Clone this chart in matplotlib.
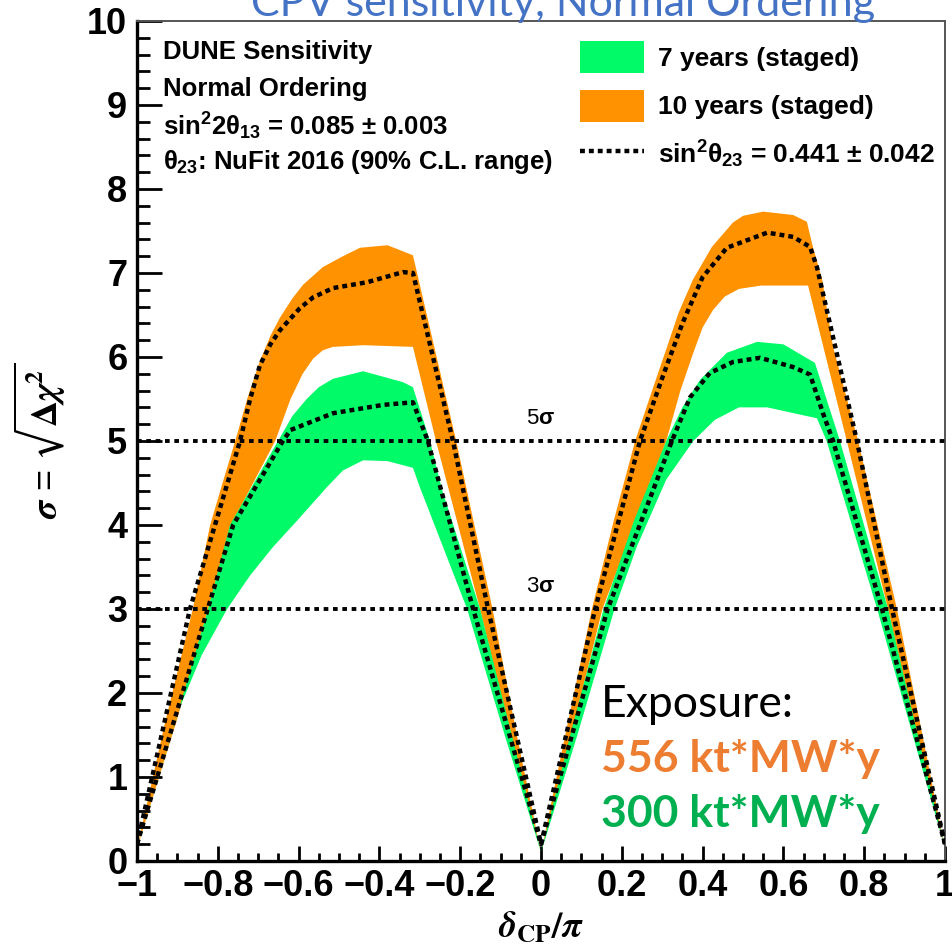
import numpy as np
import matplotlib
matplotlib.use("Agg")
import matplotlib.pyplot as plt
from matplotlib.patches import Patch
from matplotlib.lines import Line2D
from matplotlib.ticker import MultipleLocator

# ---------------- data ----------------
# 10 years (staged) band: upper boundary
o10_up_d = [-1.0, -0.933, -0.862, -0.819, -0.787, -0.757, -0.726, -0.696, -0.67, -0.646, -0.615,
            -0.589, -0.54, -0.49, -0.448, -0.38, -0.317,
            -0.21, -0.12, -0.06, 0.0, 0.06, 0.126, 0.18, 0.233, 0.275, 0.312, 0.34, 0.376, 0.423,
            0.475, 0.5, 0.55, 0.624, 0.658,
            0.673, 0.696, 0.723, 0.785, 0.881, 0.94, 1.0]
o10_up_s = [0.15, 1.6, 3.0, 4.0, 4.52, 5.0, 5.52, 5.95, 6.25, 6.47, 6.7,
            6.86, 7.07, 7.2, 7.3, 7.33, 7.21,
            5.0, 3.0, 1.5, 0.1, 1.5, 3.0, 4.05, 5.0, 5.6, 6.12, 6.52, 6.92, 7.31,
            7.6, 7.68, 7.73, 7.69, 7.61,
            7.31, 6.92, 6.12, 5.0, 3.0, 1.6, 0.15]
# 10 years (staged) band: lower boundary
o10_lo_d = [-1.0, -0.9, -0.824, -0.767, -0.658, -0.62, -0.59, -0.564, -0.54, -0.515, -0.44, -0.317,
            -0.26, -0.151, -0.075, 0.0, 0.075, 0.152, 0.31, 0.345, 0.377, 0.40, 0.426, 0.455,
            0.49, 0.545, 0.661,
            0.757, 0.859, 0.93, 1.0]
o10_lo_s = [0.15, 1.7, 3.0, 4.0, 5.0, 5.5, 5.8, 5.98, 6.08, 6.12, 6.14, 6.12,
            5.0, 3.0, 1.5, 0.1, 1.5, 3.0, 5.0, 5.6, 6.05, 6.35, 6.56, 6.72,
            6.81, 6.85, 6.85,
            5.0, 3.0, 1.5, 0.15]
# 7 years (staged) band: upper boundary
g7_up_d = [-1.0, -0.9, -0.824, -0.77, -0.651, -0.615, -0.58, -0.55, -0.515, -0.44, -0.342, -0.317,
           -0.275, -0.245, -0.151, -0.075, 0.0, 0.075, 0.155, 0.23, 0.31, 0.35, 0.394, 0.46, 0.535,
           0.6, 0.678,
           0.74, 0.859, 0.93, 1.0]
g7_up_s = [0.15, 1.75, 3.0, 4.0, 5.0, 5.3, 5.5, 5.64, 5.74, 5.83, 5.70, 5.64,
           5.0, 4.42, 3.0, 1.55, 0.1, 1.55, 3.0, 4.05, 5.0, 5.4, 5.73, 6.05, 6.18,
           6.15, 5.93,
           5.0, 3.0, 1.55, 0.15]
# 7 years (staged) band: lower boundary
g7_lo_d = [-1.0, -0.9, -0.84, -0.777, -0.72, -0.663, -0.604, -0.53, -0.49, -0.44, -0.38, -0.317,
           -0.30, -0.183, -0.09, 0.0, 0.09, 0.182, 0.237, 0.31, 0.377, 0.43, 0.49, 0.56, 0.683,
           0.707, 0.832, 0.92, 1.0]
g7_lo_s = [0.15, 1.76, 2.45, 3.0, 3.4, 3.74, 4.05, 4.45, 4.65, 4.77, 4.76, 4.68,
           4.45, 3.0, 1.5, 0.1, 1.5, 3.0, 3.74, 4.54, 5.0, 5.25, 5.40, 5.40, 5.27,
           5.0, 3.0, 1.5, 0.15]
# central values sin^2(theta23) = 0.441
o10_c_d = [-1.0, -0.869, -0.745, -0.72, -0.696, -0.67, -0.646, -0.597, -0.564, -0.515, -0.43,
           -0.342, -0.317,
           -0.218, -0.131, 0.0, 0.134, 0.245, 0.30, 0.35, 0.40, 0.46, 0.56, 0.624, 0.666, 0.683,
           0.782, 0.869, 1.0]
o10_c_s = [0.2, 3.0, 5.0, 5.5, 5.9, 6.15, 6.32, 6.58, 6.71, 6.82, 6.89,
           7.01, 7.0,
           5.0, 3.0, 0.2, 3.0, 5.0, 5.75, 6.4, 6.95, 7.3, 7.48, 7.43, 7.31, 7.07,
           5.0, 3.0, 0.2]
g7_c_d = [-1.0, -0.825, -0.762, -0.639, -0.62, -0.515, -0.39, -0.317,
          -0.28, -0.168, 0.0, 0.165, 0.324, 0.369, 0.418, 0.475, 0.542, 0.624, 0.666, 0.698,
          0.723, 0.844, 1.0]
g7_c_s = [0.2, 3.0, 4.0, 5.0, 5.13, 5.33, 5.43, 5.46,
          5.0, 3.0, 0.2, 3.0, 5.0, 5.52, 5.81, 5.94, 5.99, 5.88, 5.79, 5.33,
          5.0, 3.0, 0.2]
sigma_levels = [5, 3]
sigma_labels = ["5$\\sigma$", "3$\\sigma$"]
xticks = [-1.0, -0.8, -0.6, -0.4, -0.2, 0.0, 0.2, 0.4, 0.6, 0.8, 1.0]
xtick_labels = ["\u22121", "\u22120.8", "\u22120.6", "\u22120.4", "\u22120.2", "0",
                "0.2", "0.4", "0.6", "0.8", "1"]
yticks = [0, 1, 2, 3, 4, 5, 6, 7, 8, 9, 10]
ytick_labels = ["0", "1", "2", "3", "4", "5", "6", "7", "8", "9", "10"]
legend_labels = ["7 years (staged)", "10 years (staged)",
                 "sin$^{2}\\theta_{23}$ = 0.441 $\\pm$ 0.042"]
info_lines = ["DUNE Sensitivity", "Normal Ordering",
              "sin$^{2}$2$\\theta_{13}$ = 0.085 $\\pm$ 0.003",
              "$\\theta_{23}$: NuFit 2016 (90% C.L. range)"]
exposure_lines = ["Exposure:", "556 kt*MW*y", "300 kt*MW*y"]
title = "CPV sensitivity, Normal Ordering"

# ---------------- style ----------------
ORANGE = "#FF9200"
GREEN = "#00FA68"
plt.rcParams["font.family"] = ["Liberation Sans", "DejaVu Sans"]
plt.rcParams["font.weight"] = "bold"
plt.rcParams["mathtext.fontset"] = "custom"
plt.rcParams["mathtext.rm"] = "Liberation Sans:bold"
plt.rcParams["mathtext.it"] = "Liberation Sans:bold"
plt.rcParams["mathtext.bf"] = "Liberation Sans:bold"
plt.rcParams["mathtext.sf"] = "Liberation Sans:bold"

fig = plt.figure(figsize=(9.53, 9.48), dpi=100)
ax = fig.add_axes([0.1438, 0.0918, 0.8478, 0.8861])

# bands
ax.fill(np.concatenate([o10_up_d, o10_lo_d[::-1]]), np.concatenate([o10_up_s, o10_lo_s[::-1]]),
        color=ORANGE, lw=0, zorder=1)
ax.fill(np.concatenate([g7_up_d, g7_lo_d[::-1]]), np.concatenate([g7_up_s, g7_lo_s[::-1]]),
        color=GREEN, lw=0, zorder=2)
dot = (0, (1.1, 0.9))
ax.plot(o10_c_d, o10_c_s, color="black", lw=3.2, linestyle=dot, zorder=3)
ax.plot(g7_c_d, g7_c_s, color="black", lw=3.2, linestyle=dot, zorder=3)
for lev, lab in zip(sigma_levels, sigma_labels):
    ax.axhline(lev, color="black", lw=2.8, linestyle=(0, (1.2, 1.2)), zorder=4)
    ax.text(0.0, lev + 0.27, lab, ha="center", va="center", fontsize=16,
            fontweight="normal", zorder=5)

ax.set_xlim(-1, 1)
ax.set_ylim(0, 10)
ax.set_xticks(xticks, labels=xtick_labels)
ax.set_yticks(yticks, labels=ytick_labels)
ax.xaxis.set_minor_locator(MultipleLocator(0.05))
ax.yaxis.set_minor_locator(MultipleLocator(0.2))
ax.tick_params(axis="both", which="both", direction="in", top=False, right=False,
               labelsize=26, color="black")
ax.tick_params(axis="y", which="major", length=18, width=2.0, pad=7)
ax.tick_params(axis="y", which="minor", length=9, width=2.0)
ax.tick_params(axis="x", which="major", length=11, width=2.0, pad=6)
ax.tick_params(axis="x", which="minor", length=6, width=2.0)
for lbl in ax.get_xticklabels() + ax.get_yticklabels():
    lbl.set_fontweight("bold")
for side in ["left", "bottom"]:
    ax.spines[side].set_linewidth(2.4)
    ax.spines[side].set_color("black")
for side in ["top", "right"]:
    ax.spines[side].set_linewidth(1.4)
    ax.spines[side].set_color("#555555")

ax.set_ylabel("$\\sigma$ = $\\sqrt{\\Delta\\chi^{2}}$", fontsize=26, labelpad=14,
              math_fontfamily="stix", fontweight="normal")
ax.set_xlabel("$\\delta_{\\mathsf{CP}}/\\pi$", fontsize=26, labelpad=4,
              math_fontfamily="stix", fontweight="normal")

# info text (top-left)
info_y = [0.963, 0.919, 0.874, 0.832]
for t, yy in zip(info_lines, info_y):
    ax.text(0.032, yy, t, transform=ax.transAxes, fontsize=18.5, fontweight="bold",
            ha="left", va="center")

# legend
handles = [Patch(facecolor=GREEN, edgecolor="none"),
           Patch(facecolor=ORANGE, edgecolor="none"),
           Line2D([0], [0], color="black", lw=3.2, linestyle=dot)]
leg = ax.legend(handles, legend_labels, loc="upper left", bbox_to_anchor=(0.548, 0.976),
                frameon=False, fontsize=19, handlelength=2.45, handleheight=1.5,
                handletextpad=0.5, labelspacing=0.62, borderpad=0, borderaxespad=0)
for t in leg.get_texts():
    t.set_fontweight("bold")

# exposure annotation
exp_colors = ["black", "#ED7D31", "#00B050"]
exp_weights = ["normal", "bold", "bold"]
exp_y = [0.171, 0.106, 0.0405]
for t, c, w, yy in zip(exposure_lines, exp_colors, exp_weights, exp_y):
    ax.text(0.574, yy, t, transform=ax.transAxes, fontsize=32, color=c, fontweight=w,
            family=["Lato", "DejaVu Sans"], ha="left", va="baseline", zorder=6)

fig.text(563 / 953, 1 - 16 / 948, title, ha="center", va="baseline", fontsize=31,
         color="#4472C4", family=["Lato", "DejaVu Sans"], fontweight="normal")

fig.savefig("out.png", dpi=100)
